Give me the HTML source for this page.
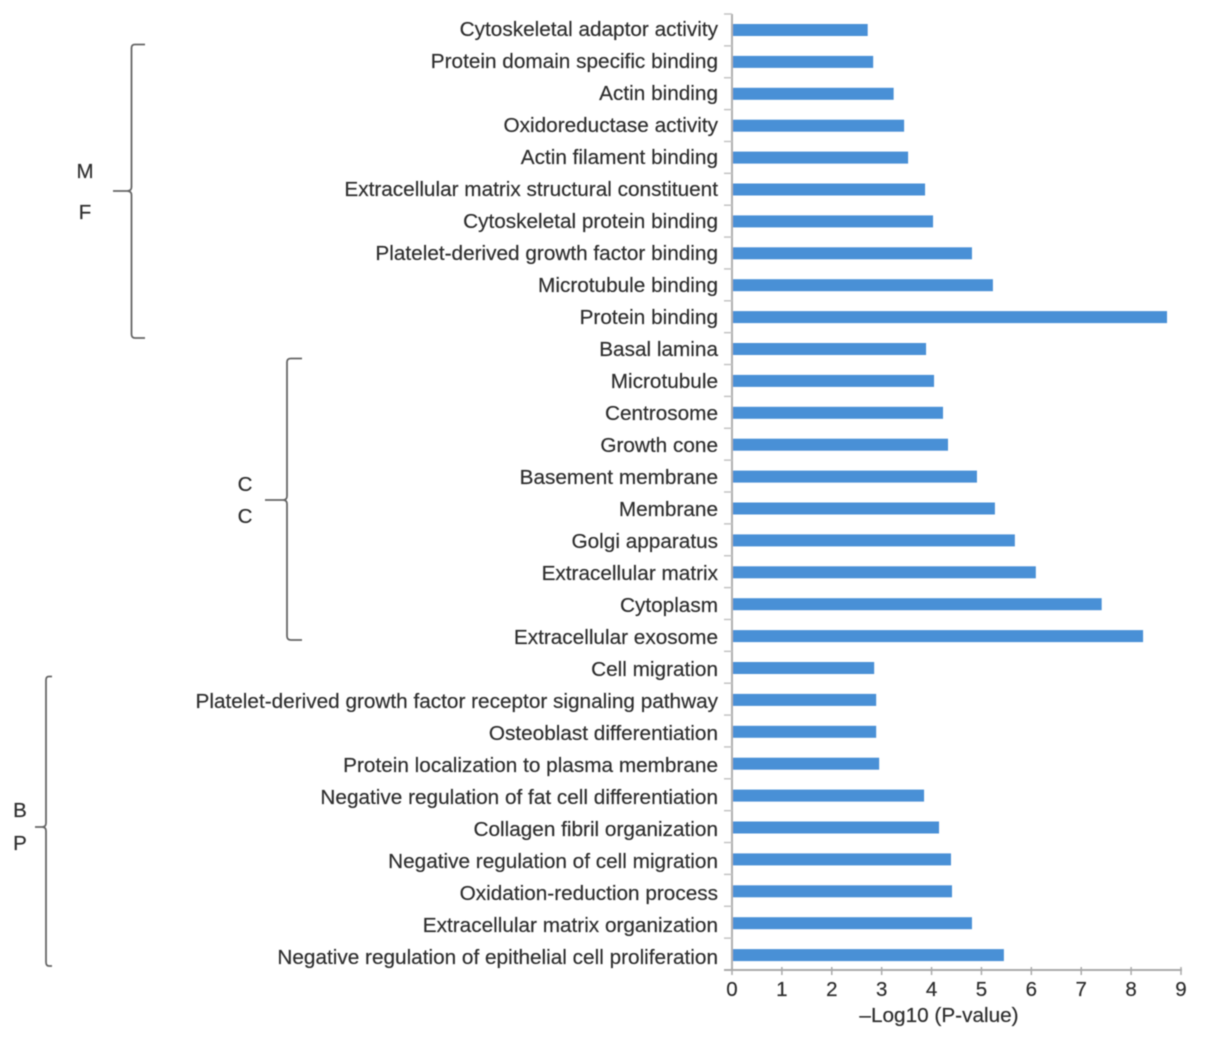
<!DOCTYPE html>
<html lang="en">
<head>
<meta charset="utf-8">
<title>GO enrichment bar chart</title>
<style>
html,body{margin:0;padding:0;background:#fff;}
svg{display:block;}
text{font-family:"Liberation Sans",Arial,sans-serif;fill:#2f2f2f;stroke:#2f2f2f;stroke-width:0.2px;}
</style>
</head>
<body>
<svg id="chart" xmlns="http://www.w3.org/2000/svg" width="1205" height="1042" viewBox="0 0 1205 1042">
<defs><filter id="soft" x="-2%" y="-2%" width="104%" height="104%"><feGaussianBlur stdDeviation="0.5"/></filter></defs>
<g id="root" filter="url(#soft)">
<path d="M145 44.500H135Q131.500 44.500 131.500 48V187Q131.500 191 127 191H113M127 191Q131.500 191 131.500 195V334Q131.500 338 135 338H145" fill="none" stroke="#666" stroke-width="1.800"/>
<path d="M302 358.500H291Q287 358.500 287 362V496Q287 500 283 500H265M283 500Q287 500 287 504V636Q287 640 291 640H302" fill="none" stroke="#666" stroke-width="1.800"/>
<path d="M52 676.500H49Q46 676.500 46 680V823Q46 827 42 827H35M42 827Q46 827 46 831V962Q46 966 49 966H52" fill="none" stroke="#666" stroke-width="1.800"/>
<text x="85" y="178" font-size="20.500" text-anchor="middle">M</text>
<text x="85" y="219" font-size="20.500" text-anchor="middle">F</text>
<text x="245" y="491" font-size="20.500" text-anchor="middle">C</text>
<text x="245" y="523" font-size="20.500" text-anchor="middle">C</text>
<text x="20" y="817" font-size="20.500" text-anchor="middle">B</text>
<text x="20" y="850" font-size="20.500" text-anchor="middle">P</text>
<text x="939" y="1022" font-size="20.750" text-anchor="middle">–Log10 (P-value)</text>
</g>
</svg>
<script>
const categories = [
  "Cytoskeletal adaptor activity","Protein domain specific binding","Actin binding","Oxidoreductase activity","Actin filament binding",
  "Extracellular matrix structural constituent","Cytoskeletal protein binding","Platelet-derived growth factor binding","Microtubule binding","Protein binding",
  "Basal lamina","Microtubule","Centrosome","Growth cone","Basement membrane","Membrane","Golgi apparatus","Extracellular matrix","Cytoplasm","Extracellular exosome",
  "Cell migration","Platelet-derived growth factor receptor signaling pathway","Osteoblast differentiation","Protein localization to plasma membrane",
  "Negative regulation of fat cell differentiation","Collagen fibril organization","Negative regulation of cell migration","Oxidation-reduction process",
  "Extracellular matrix organization","Negative regulation of epithelial cell proliferation"
];
const pValues = [
  2.72,2.83,3.24,3.45,3.53,3.87,4.03,4.81,5.23,8.72,
  3.89,4.05,4.23,4.33,4.91,5.27,5.67,6.09,7.41,8.24,
  2.85,2.89,2.89,2.95,3.85,4.15,4.39,4.41,4.81,5.45
];
const xTicks = [0,1,2,3,4,5,6,7,8,9];

const NS = "http://www.w3.org/2000/svg";
const root = document.getElementById("root");
const x0 = 732, x1 = 1181, yTop = 14, yBottom = 970, barHeight = 12;
const xMax = xTicks[xTicks.length - 1];
function xScale(v) { return x0 + (x1 - x0) * v / xMax; }
function band() { return (yBottom - yTop) / categories.length; }
function yScale(i) { return 30 + i * 31.9; }
function labelY(i) { return 28.500 + i * 32; }
function make(tag, attrs) {
  const el = document.createElementNS(NS, tag);
  for (const k in attrs) el.setAttribute(k, attrs[k]);
  root.appendChild(el);
  return el;
}
const yAxis = make("line", {x1:x0, x2:x0, y1:yTop, y2:yBottom, stroke:"#b0b0b0", "stroke-width":2});


const xAxis = make("line", {x1:724, x2:x1 + 1, y1:yBottom, y2:yBottom, stroke:"#aaa", "stroke-width":2});


for (let i = 0; i < categories.length; i++) {
  const tickY = yTop + band() * i;
  const tick = make("line", {x1:724, x2:x0, y1:tickY, y2:tickY, stroke:"#c4c4c4", "stroke-width":1.5});
  
  
  const bar = make("rect", {x:x0 + 1, y:yScale(i) - barHeight / 2, width:xScale(pValues[i]) - x0 - 1, height:barHeight, fill:"#4a90d6"});
  
  
  const label = make("text", {x:718, y:labelY(i) + 7.500, "font-size":20.750, "text-anchor":"end"});
  label.textContent = categories[i];
  
  
}
for (const t of xTicks) {
  const tick = make("line", {x1:xScale(t), x2:xScale(t), y1:yBottom - 3, y2:yBottom + 5, stroke:"#aaa", "stroke-width":1.5});
  
  
  const label = make("text", {x:xScale(t), y:996, "font-size":20.500, "text-anchor":"middle"});
  label.textContent = t;
  
  
}
</script>
</body>
</html>
